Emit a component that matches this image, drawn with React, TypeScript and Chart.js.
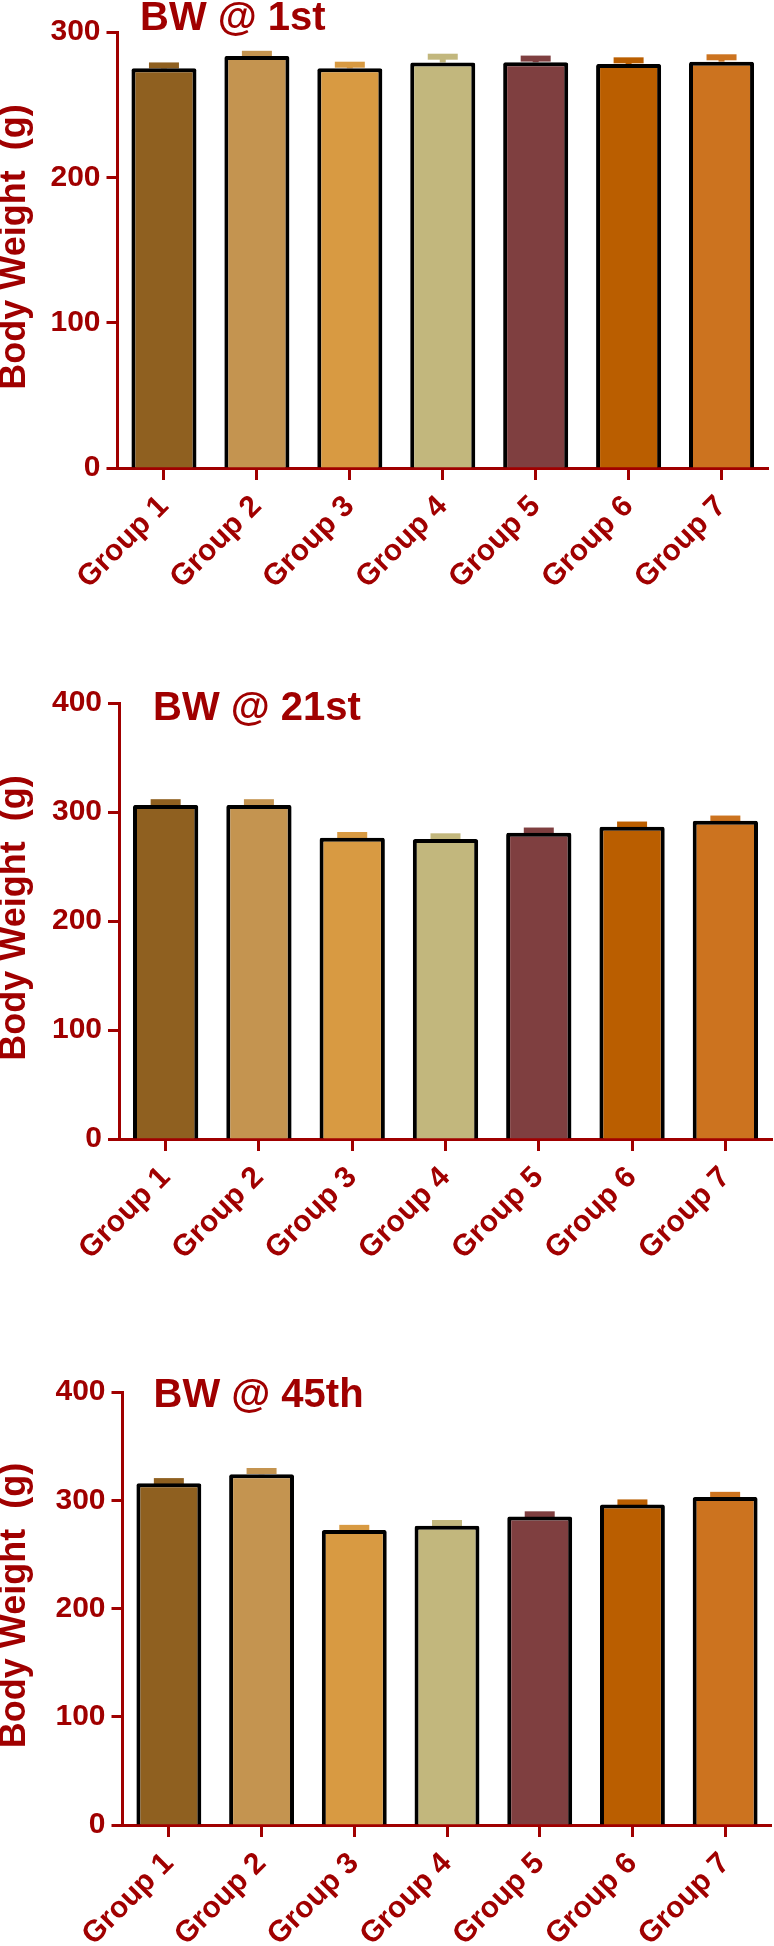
import React, { useEffect, useRef } from 'react';
import { Chart, registerables } from 'chart.js';

Chart.register(...registerables);

const categories = ['Group 1', 'Group 2', 'Group 3', 'Group 4', 'Group 5', 'Group 6', 'Group 7'];
const barColors = ['#8f6020', '#c49450', '#d89a42', '#c2b77d', '#7f3f40', '#ba5e00', '#cc731f'];

const day1Values = [275, 283.5, 275, 279, 279.2, 278, 279.6];
const day1Errors = [2, 1.5, 2.5, 4, 2.5, 2.5, 3];
const day21Values = [306.5, 306.5, 276.4, 275.2, 281, 286.5, 292];
const day21Errors = [2.5, 2.5, 2.5, 2.5, 2, 2, 2];
const day45Values = [315.7, 324, 272.5, 276.5, 285, 296, 303];
const day45Errors = [2, 3, 2, 2.5, 2, 2, 2];

const titles = ['BW @ 1st', 'BW @ 21st', 'BW @ 45th'];
const yAxisTitle = 'Body Weight  (g)';
const yMaxes = [300, 400, 400];
const yStep = 100;

const RED = '#a00000';
const FONT = "'Liberation Sans', Arial, Helvetica, sans-serif";

type Panel = {
  title: string;
  values: number[];
  errors: number[];
  yMax: number;
  top: number;
  height: number;
  yWidth: number;
  padTop: number;
  padRight: number;
  xHeight: number;
  titleDx: number;
  titleDy: number;
};

const panels: Panel[] = [
  { title: titles[0], values: day1Values, errors: day1Errors, yMax: yMaxes[0], top: 0, height: 640, yWidth: 117.5, padTop: 32, padRight: 6, xHeight: 172, titleDx: 22.5, titleDy: -2 },
  { title: titles[1], values: day21Values, errors: day21Errors, yMax: yMaxes[1], top: 640, height: 640, yWidth: 119, padTop: 63, padRight: 2, xHeight: 141, titleDx: 34, titleDy: 17 },
  { title: titles[2], values: day45Values, errors: day45Errors, yMax: yMaxes[2], top: 1280, height: 666, yWidth: 122.5, padTop: 112, padRight: 2.5, xHeight: 121, titleDx: 31, titleDy: 15 },
];

const errorBarPlugin = {
  id: 'errorBars',
  beforeDatasetsDraw(chart: any, _args: any, opts: any) {
    const meta = chart.getDatasetMeta(0);
    const yScale = chart.scales.y;
    const ctx = chart.ctx;
    const values: number[] = opts.values;
    const errors: number[] = opts.errors;
    ctx.save();
    meta.data.forEach((bar: any, i: number) => {
      const yTop = yScale.getPixelForValue(values[i] + errors[i]);
      const yVal = yScale.getPixelForValue(values[i]);
      ctx.strokeStyle = barColors[i];
      ctx.lineWidth = 6;
      ctx.lineCap = 'butt';
      ctx.beginPath();
      ctx.moveTo(bar.x, yVal);
      ctx.lineTo(bar.x, yTop);
      ctx.stroke();
      ctx.beginPath();
      ctx.moveTo(bar.x - 15, yTop);
      ctx.lineTo(bar.x + 15, yTop);
      ctx.stroke();
    });
    ctx.restore();
  },
};

const titlePlugin = {
  id: 'panelTitles',
  afterDraw(chart: any, _args: any, opts: any) {
    const ctx = chart.ctx;
    const area = chart.chartArea;
    ctx.save();
    ctx.fillStyle = RED;
    ctx.font = `bold 40px ${FONT}`;
    ctx.textAlign = 'left';
    ctx.textBaseline = 'alphabetic';
    ctx.fillText(opts.title, area.left + opts.dx, area.top + opts.dy);
    ctx.translate(15, (area.top + area.bottom) / 2 - 3);
    ctx.rotate(-Math.PI / 2);
    ctx.font = `bold 36px ${FONT}`;
    ctx.textAlign = 'center';
    ctx.textBaseline = 'middle';
    ctx.fillText(yAxisTitle, 0, 0);
    ctx.restore();
  },
};

function BarPanel({ panel }: { panel: Panel }) {
  const ref = useRef<HTMLCanvasElement | null>(null);
  useEffect(() => {
    if (!ref.current) return;
    const chart = new Chart(ref.current, {
      type: 'bar',
      data: {
        labels: categories,
        datasets: [
          {
            data: panel.values,
            backgroundColor: barColors,
            borderColor: '#000000',
            borderWidth: 4,
            borderSkipped: 'bottom',
            borderRadius: 2,
            barPercentage: 0.7,
            categoryPercentage: 1,
          },
        ],
      },
      options: {
        animation: false,
        responsive: false,
        devicePixelRatio: 1,
        layout: { padding: { top: panel.padTop, right: panel.padRight, left: 0, bottom: 0 } },
        plugins: {
          legend: { display: false },
          tooltip: { enabled: false },
          title: { display: false },
          errorBars: { values: panel.values, errors: panel.errors },
          panelTitles: { title: panel.title, dx: panel.titleDx, dy: panel.titleDy },
        } as any,
        scales: {
          x: {
            z: 1,
            offset: true,
            grid: {
              display: true,
              offset: false,
              drawOnChartArea: false,
              drawTicks: true,
              tickLength: 12,
              tickWidth: 3,
              tickColor: RED,
            },
            border: { display: true, color: RED, width: 3 },
            ticks: {
              color: RED,
              font: { family: FONT, size: 30, weight: 'bold' },
              maxRotation: 45,
              minRotation: 45,
              autoSkip: false,
              padding: 9,
            },
            afterFit: (scale: any) => {
              scale.height = panel.xHeight;
            },
          },
          y: {
            z: 1,
            min: 0,
            max: panel.yMax,
            grid: {
              display: true,
              drawOnChartArea: false,
              drawTicks: true,
              tickLength: 11,
              tickWidth: 3,
              tickColor: RED,
            },
            border: { display: true, color: RED, width: 3 },
            ticks: {
              stepSize: yStep,
              color: RED,
              font: { family: FONT, size: 30, weight: 'bold' },
              padding: 6,
            },
            afterFit: (scale: any) => {
              scale.width = panel.yWidth;
            },
          },
        },
      } as any,
      plugins: [errorBarPlugin, titlePlugin],
    });
    return () => chart.destroy();
  }, [panel]);
  return (
    <canvas
      ref={ref}
      width={774}
      height={panel.height}
      style={{ position: 'absolute', left: 0, top: panel.top, width: 774, height: panel.height }}
    />
  );
}

export default function App() {
  useEffect(() => {
    document.body.style.margin = '0';
  }, []);
  return (
    <div style={{ position: 'relative', width: 774, height: 1946, background: '#ffffff', overflow: 'hidden' }}>
      {panels.map((p, i) => (
        <BarPanel key={i} panel={p} />
      ))}
    </div>
  );
}
